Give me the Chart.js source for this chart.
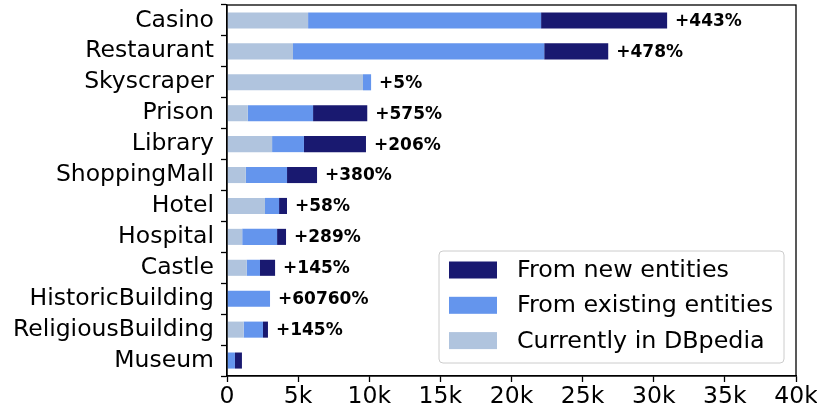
<!DOCTYPE html>
<html>
<head>
<meta charset="utf-8">
<script src="https://cdn.jsdelivr.net/npm/chart.js@4.4.0/dist/chart.umd.min.js"></script>
<style>
  html, body { margin: 0; padding: 0; background: #fff; }
  #wrap { width: 817px; height: 409px; }
</style>
</head>
<body>
<div id="wrap"><canvas id="c" width="817" height="409"></canvas></div>
<script>
const categories = ["Casino", "Restaurant", "Skyscraper", "Prison", "Library", "ShoppingMall",
  "Hotel", "Hospital", "Castle", "HistoricBuilding", "ReligiousBuilding", "Museum"];
// values in entities
const currentlyInDBpedia = [5700, 4640, 9560, 1460, 3170, 1320, 2670, 1070, 1380, 5, 1170, 0];
const fromExisting       = [16380, 17660, 570, 4590, 2240, 2900, 990, 2450, 940, 3020, 1360, 560];
const fromNew            = [8860, 4500, 0, 3810, 4360, 2110, 560, 630, 1060, 0, 350, 490];
const increaseLabels = ["+443%", "+478%", "+5%", "+575%", "+206%", "+380%", "+58%", "+289%",
  "+145%", "+60760%", "+145%", ""];
const xTicksMax = 40000;
const xTickStep = 5000;

const FONT = "'DejaVu Sans', sans-serif";

const frameAndLabels = {
  id: 'frameAndLabels',
  afterDatasetsDraw(chart) {
    const ctx = chart.ctx;
    const xs = chart.scales.x, ys = chart.scales.y;
    ctx.save();
    ctx.font = "bold 17px " + FONT;
    ctx.fillStyle = "#000";
    ctx.textAlign = "left";
    ctx.textBaseline = "middle";
    categories.forEach((c, i) => {
      if (!increaseLabels[i]) return;
      const total = currentlyInDBpedia[i] + fromExisting[i] + fromNew[i];
      const x = xs.getPixelForValue(total) + 8;
      const y = ys.getPixelForValue(i);
      ctx.fillText(increaseLabels[i], x, y + 1);
    });
    ctx.restore();
  },
  afterDraw(chart) {
    const ctx = chart.ctx;
    const a = chart.chartArea;
    ctx.save();
    ctx.strokeStyle = "#000";
    ctx.lineWidth = 1.3;
    ctx.strokeRect(a.left, a.top, a.right - a.left, a.bottom - a.top);

    // legend (reverse order, inside plot, lower right)
    const bx = 439, by = 251, bw = 345, bh = 112, r = 4;
    ctx.beginPath();
    ctx.moveTo(bx + r, by);
    ctx.arcTo(bx + bw, by, bx + bw, by + bh, r);
    ctx.arcTo(bx + bw, by + bh, bx, by + bh, r);
    ctx.arcTo(bx, by + bh, bx, by, r);
    ctx.arcTo(bx, by, bx + bw, by, r);
    ctx.closePath();
    ctx.fillStyle = "rgba(255,255,255,0.8)";
    ctx.fill();
    ctx.strokeStyle = "#cccccc";
    ctx.lineWidth = 1;
    ctx.stroke();

    const ds = chart.data.datasets.slice().reverse();
    ctx.font = "23.8px " + FONT;
    ctx.textBaseline = "middle";
    ctx.textAlign = "left";
    ds.forEach((d, k) => {
      const cy = 270 + k * 35.3;
      ctx.fillStyle = d.backgroundColor;
      ctx.fillRect(449, cy - 8.5, 48, 17);
      ctx.fillStyle = "#000";
      ctx.fillText(d.label, 517, cy + 1);
    });
    ctx.restore();
  }
};

new Chart(document.getElementById('c'), {
  type: 'bar',
  data: {
    labels: categories,
    datasets: [
      { label: "Currently in DBpedia", data: currentlyInDBpedia, backgroundColor: "#B0C4DE" },
      { label: "From existing entities", data: fromExisting, backgroundColor: "#6495ED" },
      { label: "From new entities", data: fromNew, backgroundColor: "#191970" }
    ]
  },
  options: {
    indexAxis: 'y',
    responsive: false,
    animation: false,
    devicePixelRatio: 1,
    layout: { padding: { left: 0, right: 21, top: 5, bottom: 0 } },
    datasets: { bar: { barPercentage: 0.52, categoryPercentage: 1, borderWidth: 0 } },
    plugins: { legend: { display: false }, tooltip: { enabled: false } },
    scales: {
      x: {
        stacked: true,
        min: 0, max: xTicksMax,
        grid: { drawOnChartArea: false, color: "#000", tickLength: 6, tickWidth: 1.3 },
        border: { display: true, color: "#000", width: 1.3 },
        ticks: {
          stepSize: xTickStep,
          color: "#000",
          font: { family: FONT, size: 23.5 },
          padding: 1,
          maxRotation: 0,
          callback: v => v === 0 ? "0" : (v / 1000) + "k"
        },
        afterFit: s => { s.height = 33; s.paddingLeft = 0; s.paddingRight = 0; }
      },
      y: {
        stacked: true,
        grid: { drawOnChartArea: false, color: "#000", tickLength: 6, tickWidth: 1.3 },
        border: { display: true, color: "#000", width: 1.3 },
        ticks: { color: "#000", font: { family: FONT, size: 23.5 }, padding: 7, autoSkip: false },
        afterFit: s => { s.width = 227; s.paddingTop = 0; s.paddingBottom = 0; }
      }
    }
  },
  plugins: [frameAndLabels]
});
</script>
</body>
</html>
